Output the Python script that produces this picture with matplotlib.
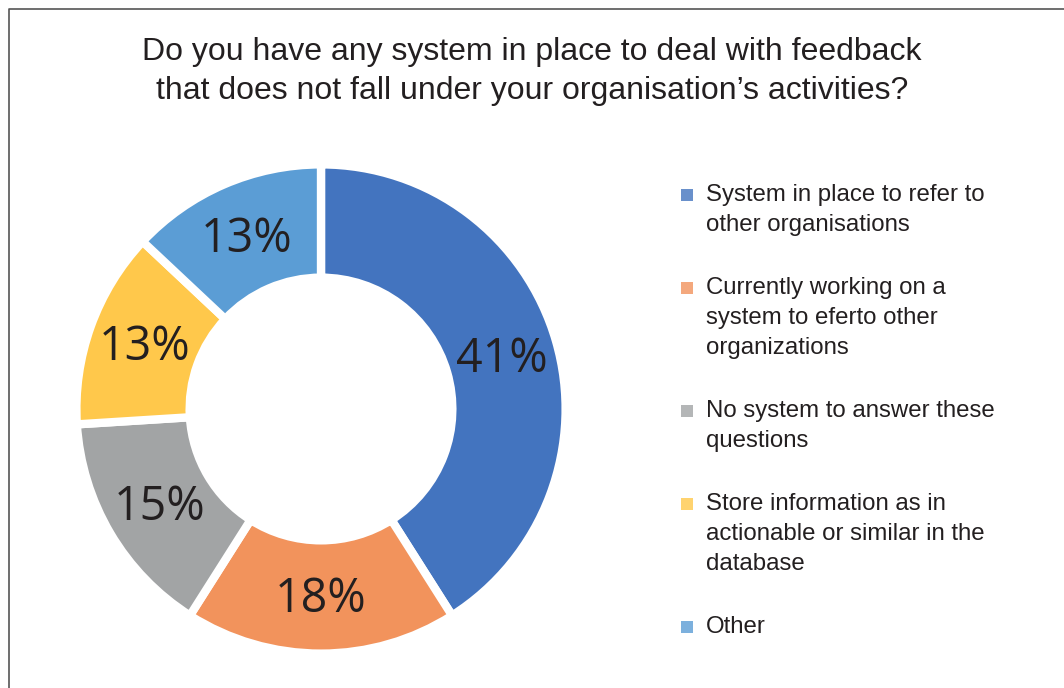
import numpy as np
import matplotlib.pyplot as plt
from matplotlib.lines import Line2D
from matplotlib.patches import Rectangle

plt.rcParams['font.family'] = ['Liberation Sans', 'DejaVu Sans']

# survey answers, share of respondents (%)
answers = ['System in place to refer to\nother organisations',
           'Currently working on a\nsystem to eferto other\norganizations',
           'No system to answer these\nquestions',
           'Store information as in\nactionable or similar in the\ndatabase',
           'Other']
shares = [41, 18, 15, 13, 13]
colors = ['#4374BF', '#F2935C', '#A2A4A5', '#FFC84B', '#5B9DD5']

W, H = 1064, 688
fig = plt.figure(figsize=(W / 100, H / 100), dpi=100)

# donut centred at (321, 409) px, outer radius ~241 px
cx, cy, half = 321, H - 409, 250
ax = fig.add_axes([(cx - half) / W, (cy - half) / H, 2 * half / W, 2 * half / H])
ax.pie(shares, colors=colors, startangle=90, counterclock=False, radius=1.015,
       wedgeprops=dict(width=0.47, edgecolor='white', linewidth=6))
lim = half / 241
ax.set_xlim(-lim, lim)
ax.set_ylim(-lim, lim)
ax.set_aspect('equal')
ax.axis('off')

# percentage labels in the middle of each ring segment
start = 90.0
for s in shares:
    mid = np.deg2rad(start - s * 3.6 / 2)
    start -= s * 3.6
    r = 0.78
    ax.text(r * np.cos(mid), r * np.sin(mid) - 0.01, f'{s}%', ha='center', va='center',
            fontsize=33.5, color='#231F20', family=['Open Sans', 'DejaVu Sans'])

fig.text(0.5, 1 - 37 / H,
         'Do you have any system in place to deal with feedback\n'
         'that does not fall under your organisation\u2019s activities?',
         ha='center', va='top', fontsize=23, color='#231F20', linespacing=1.37)

# legend, one square per answer aligned with its first line
y = 195
for lab, c in zip(answers, colors):
    fig.patches.append(Rectangle((681 / W, 1 - (y + 6) / H), 12 / W, 12 / H,
                                 transform=fig.transFigure, facecolor=c,
                                 alpha=0.8, edgecolor='none'))
    lines = lab.split('\n')
    for i, line in enumerate(lines):
        fig.text(706 / W, 1 - (y + 30.3 * i) / H, line, ha='left', va='center',
                 fontsize=17.3, color='#231F20')
    y += 30.3 * (len(lines) - 1) + 62.5

# frame along the top and left edge
fig.add_artist(Line2D([8.5 / W, 8.5 / W, 1], [0, 1 - 9 / H, 1 - 9 / H],
                      transform=fig.transFigure, color='#555555', linewidth=1.2))

fig.savefig('out.png', dpi=100)
